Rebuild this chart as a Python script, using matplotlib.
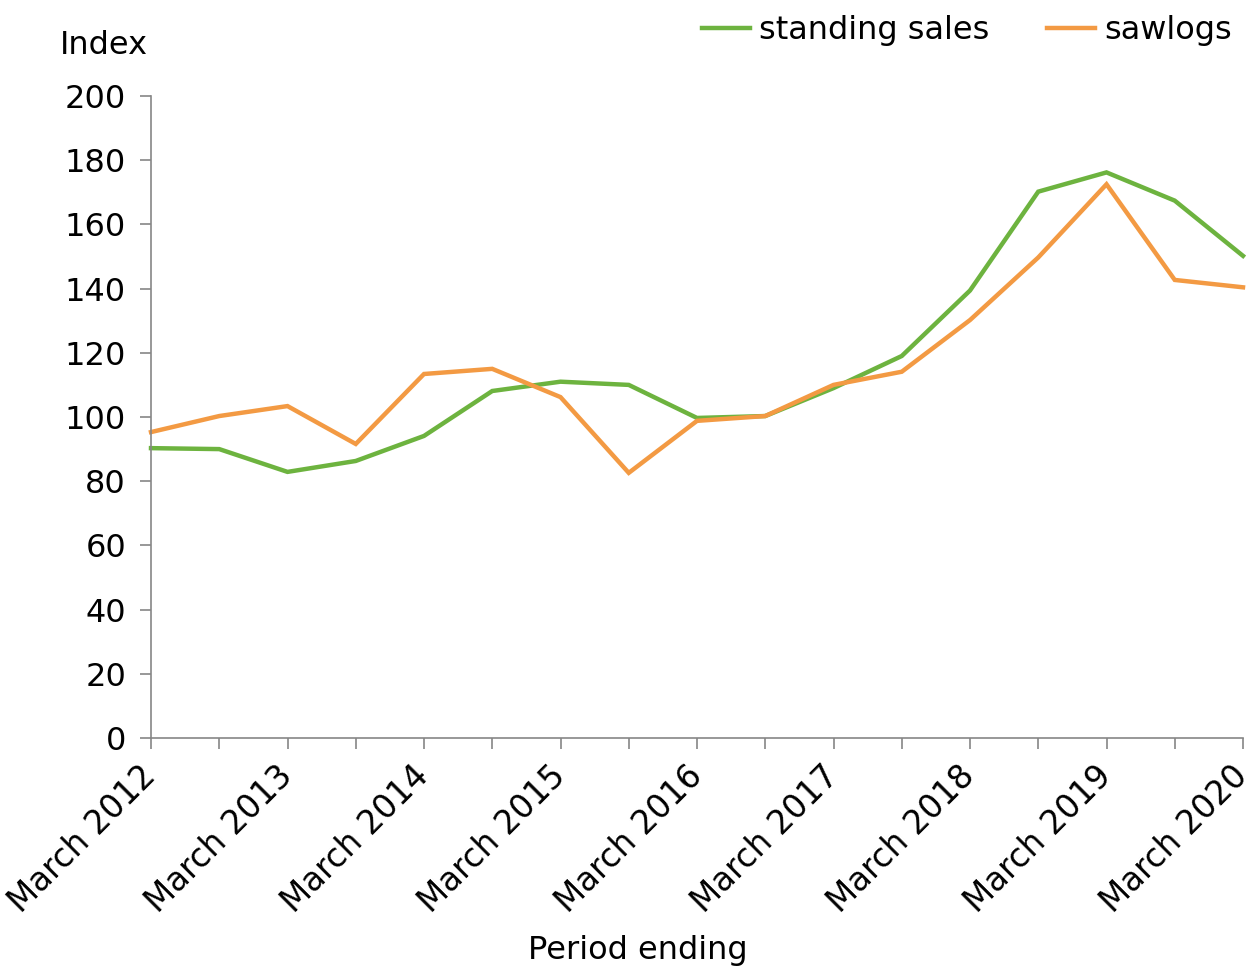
import numpy as np
import matplotlib.pyplot as plt

# half-yearly periods, March 2012 .. March 2020
periods = ["March 2012", "Sept 2012", "March 2013", "Sept 2013", "March 2014",
           "Sept 2014", "March 2015", "Sept 2015", "March 2016", "Sept 2016",
           "March 2017", "Sept 2017", "March 2018", "Sept 2018", "March 2019",
           "Sept 2019", "March 2020"]
standing_sales = [90.3, 90.0, 82.9, 86.3, 94.1, 108.1, 111.0, 110.0, 99.7, 100.3,
                  109.0, 119.0, 139.4, 170.2, 176.2, 167.4, 150.2]
sawlogs = [95.3, 100.3, 103.4, 91.6, 113.4, 115.0, 106.2, 82.6, 98.8, 100.3,
           110.0, 114.1, 130.2, 149.7, 172.5, 142.7, 140.4]

GREEN = "#6db33f"
ORANGE = "#f39a43"
AXIS = "#868686"
FS = 23

plt.rcParams["font.family"] = ["DejaVu Sans"]

fig = plt.figure(figsize=(12.57, 9.68), dpi=100)
ax = fig.add_axes([151 / 1257, 1 - 738 / 968, (1243 - 151) / 1257, (738 - 96) / 968])

x = np.arange(len(periods))
ax.plot(x, standing_sales, color=GREEN, lw=3.2, label="standing sales",
        solid_joinstyle="miter", clip_on=False)
ax.plot(x, sawlogs, color=ORANGE, lw=3.2, label="sawlogs",
        solid_joinstyle="miter", clip_on=False)

ax.set_xlim(0, len(periods) - 1)
ax.set_ylim(0, 200)
ax.set_yticks(np.arange(0, 201, 20))
ax.set_xticks(x)
ax.set_xticklabels([p if p.startswith("March") else "" for p in periods],
                   rotation=45, ha="right", va="center", rotation_mode="anchor",
                   fontsize=23.5)

for s in ["top", "right"]:
    ax.spines[s].set_visible(False)
for s in ["left", "bottom"]:
    ax.spines[s].set_color(AXIS)
    ax.spines[s].set_linewidth(1.2)
ax.tick_params(axis="both", colors=AXIS, labelcolor="black",
               length=8, width=1.2, direction="out")
ax.tick_params(axis="y", pad=10, labelsize=FS)
ax.tick_params(axis="x", pad=16)

fig.text(60 / 1257, 1 - 45 / 968, "Index", fontsize=FS, va="center", ha="left")
fig.text(638 / 1257, 1 - 950 / 968, "Period ending", fontsize=FS, va="center", ha="center")

fig.legend(loc="upper right", bbox_to_anchor=(1245 / 1257, 1 - 2 / 968), ncol=2,
           frameon=False, fontsize=FS, handlelength=1.5, handletextpad=0.3,
           columnspacing=1.8, borderaxespad=0)

fig.savefig("out.png", dpi=100)
